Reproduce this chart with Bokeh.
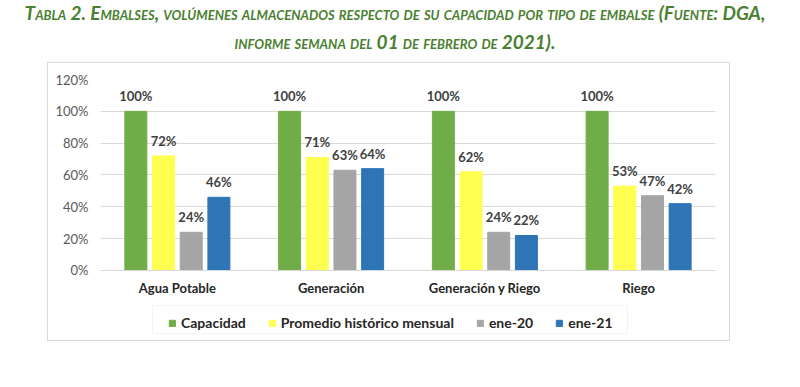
from bokeh.plotting import figure
from bokeh.models import (ColumnDataSource, FactorRange, NumeralTickFormatter, Legend, LegendItem, Div,
                          Range1d, LabelSet, Span, BoxAnnotation)
from bokeh.core.properties import value
from bokeh.transform import dodge
from bokeh.layouts import column
from bokeh.embed import file_html
from bokeh.resources import INLINE

categories = ["Agua Potable", "Generación", "Generación y Riego", "Riego"]
series_names = ["Capacidad", "Promedio histórico mensual", "ene-20", "ene-21"]
capacidad = [1.00, 1.00, 1.00, 1.00]
promedio = [0.72, 0.71, 0.62, 0.53]
ene20 = [0.24, 0.63, 0.24, 0.47]
ene21 = [0.46, 0.64, 0.22, 0.42]
y_ticks = [0, 0.2, 0.4, 0.6, 0.8, 1.0, 1.2]

colors = ["#70AD47", "#FFFF50", "#A5A5A5", "#2E75B6"]
offsets = [-0.27, -0.09, 0.09, 0.27]
FONT = "Lato"

title = Div(
    text=("<div style='text-align:center; font-family:Lato; font-weight:bold; font-style:italic; "
          "font-variant:small-caps; color:#4A8030; font-size:19px; line-height:29px; width:790px; margin-top:-2px;'>"
          "Tabla 2. Embalses, volúmenes almacenados respecto de su capacidad por tipo de embalse (Fuente: DGA,<br>"
          "informe semana del 01 de febrero de 2021).</div>"),
    width=790, height=62, margin=(0, 0, 0, 0),
)

src = ColumnDataSource(dict(cat=categories, capacidad=capacidad, promedio=promedio, ene20=ene20, ene21=ene21,
                            zero=[0] * len(categories),
                            l_capacidad=[f"{v:.0%}" for v in capacidad],
                            l_promedio=[f"{v:.0%}" for v in promedio],
                            l_ene20=[f"{v:.0%}" for v in ene20],
                            l_ene21=[f"{v:.0%}" for v in ene21]))

# frame extends below 0 to hold category labels and legend
p = figure(x_range=FactorRange(*categories), y_range=Range1d(-0.4524, 1.2),
           width=683, height=279, output_backend="svg", toolbar_location=None,
           x_axis_location=None,
           min_border_left=52, min_border_right=16, min_border_top=16, min_border_bottom=0,
           margin=(0, 0, 0, 47), styles={"border": "1px solid #D9D9D9"})

fields = ["capacidad", "promedio", "ene20", "ene21"]
items = []
for f, c, o, name in zip(fields, colors, offsets, series_names):
    r = p.vbar(x=dodge("cat", o, range=p.x_range), top=f, width=0.143, source=src,
               fill_color=c, line_color=c)
    items.append(LegendItem(label=name, renderers=[r]))
    lbl = LabelSet(x=dodge("cat", o, range=p.x_range), y=f, text="l_" + f, source=src,
                   text_align="center", text_baseline="bottom", y_offset=7,
                   text_font=value(FONT), text_font_style="bold", text_font_size="13px",
                   text_color="#404040")
    p.add_layout(lbl)

# baseline (category axis line) and category labels
p.add_layout(Span(location=0, dimension="width", line_color="#D9D9D9", line_width=1))
p.add_layout(LabelSet(x="cat", y="zero", text="cat", source=src, text_align="center",
                      text_baseline="middle", y_offset=-18, text_font=value(FONT), text_font_style="bold",
                      text_font_size="13px", text_color="#262626"))

p.yaxis.ticker = y_ticks
p.yaxis.formatter = NumeralTickFormatter(format="0%")
p.yaxis.axis_line_color = None
p.yaxis.major_tick_line_color = None
p.yaxis.minor_tick_line_color = None
p.yaxis.major_tick_out = 0
p.yaxis.major_tick_in = 0
p.yaxis.major_label_text_font = FONT
p.yaxis.major_label_text_font_size = "13px"
p.yaxis.major_label_text_color = "#595959"
p.yaxis.major_label_standoff = 12

p.xgrid.grid_line_color = None
p.ygrid.grid_line_color = "#D9D9D9"
p.ygrid.ticker = y_ticks
p.outline_line_color = None

# legend frame box
p.add_layout(BoxAnnotation(left=52, right=527, bottom=9, top=37,
                           left_units="screen", right_units="screen",
                           bottom_units="screen", top_units="screen",
                           fill_color=None, line_color="#D9D9D9", line_width=1))

legend = Legend(items=items, orientation="horizontal", location=(68, 11),
                label_text_font=FONT, label_text_font_style="bold", label_text_font_size="14px",
                label_text_color="#262626", glyph_width=8, glyph_height=8, label_standoff=5,
                spacing=22, padding=5, margin=0, border_line_color=None, background_fill_alpha=0,
                label_height=14)
p.add_layout(legend, "center")

layout = column(title, p, spacing=0)
open("out.html", "w").write(file_html(layout, INLINE))
